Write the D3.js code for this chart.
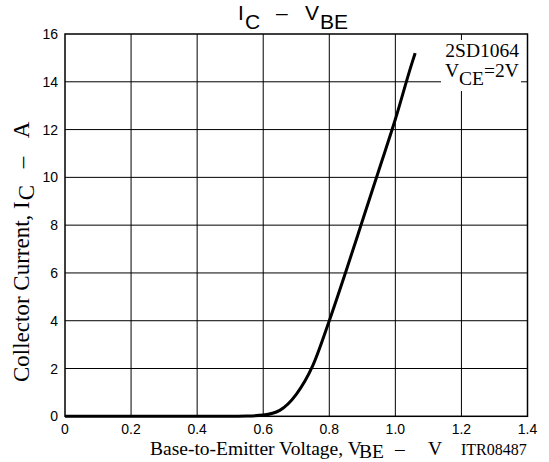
<!DOCTYPE html>
<html>
<head>
<meta charset="utf-8">
<script src="https://cdn.jsdelivr.net/npm/d3@7/dist/d3.min.js"></script>
<style>
  html, body { margin: 0; padding: 0; background: #fff; }
  svg { display: block; }
</style>
</head>
<body>
<svg id="chart" width="549" height="462"></svg>
<script>
// ---- data ----
const vbe = [0, 0.50, 0.55, 0.60, 0.65, 0.70, 0.75, 0.80, 0.85, 0.90, 0.95, 1.00, 1.05, 1.06];
const ic  = [0, 0, 0.01, 0.05, 0.25, 0.92, 2.12, 4.0, 6.05, 8.17, 10.3, 12.43, 14.77, 15.2];
const xTicks = [0, 0.2, 0.4, 0.6, 0.8, 1.0, 1.2, 1.4];
const xTickLabels = ["0", "0.2", "0.4", "0.6", "0.8", "1.0", "1.2", "1.4"];
const yTicks = [0, 2, 4, 6, 8, 10, 12, 14, 16];
const yTickLabels = ["0", "2", "4", "6", "8", "10", "12", "14", "16"];

const svg = d3.select("#chart");
const L = 65, R = 527.5, T = 34, B = 416.3;
const x = d3.scaleLinear().domain([0, 1.4]).range([L, R]);
const y = d3.scaleLinear().domain([0, 16]).range([B, T]);
const sans = "'Liberation Sans', Arial, sans-serif";
const serif = "'Liberation Serif', 'Times New Roman', serif";

// grid
const g = svg.append("g");
g.selectAll(".vg").data(xTicks.slice(1, -1)).join("line")
  .attr("x1", d => x(d)).attr("x2", d => x(d))
  .attr("y1", T).attr("y2", B)
  .attr("stroke", "#000").attr("stroke-width", 1);
g.selectAll(".hg").data(yTicks.slice(1, -1)).join("line")
  .attr("x1", L).attr("x2", R)
  .attr("y1", d => y(d)).attr("y2", d => y(d))
  .attr("stroke", "#000").attr("stroke-width", 1);

// label box (knocks out grid)
svg.append("rect").attr("x", 441).attr("y", 40).attr("width", 80).attr("height", 51).attr("fill", "#fff");

// frame
svg.append("rect").attr("x", L).attr("y", T).attr("width", R - L).attr("height", B - T)
  .attr("fill", "none").attr("stroke", "#000").attr("stroke-width", 1.5);

// curve
const pts = vbe.map((v, i) => [v, ic[i]]);
svg.append("path").datum(pts)
  .attr("d", d3.line().x(d => x(d[0])).y(d => y(d[1])).curve(d3.curveMonotoneX))
  .attr("fill", "none").attr("stroke", "#000").attr("stroke-width", 3)
  .attr("stroke-linejoin", "round");

// tick labels
svg.selectAll(".xt").data(xTicks).join("text")
  .attr("x", d => x(d)).attr("y", 433.5)
  .attr("text-anchor", "middle").attr("font-family", sans).attr("font-size", 14)
  .text((d, i) => xTickLabels[i]);
svg.selectAll(".yt").data(yTicks).join("text")
  .attr("x", 58).attr("y", d => y(d) + 5)
  .attr("text-anchor", "end").attr("font-family", sans).attr("font-size", 14)
  .text((d, i) => yTickLabels[i]);

function put(parent, t, px, py, size, fam, anchor) {
  return parent.append("text").attr("x", px).attr("y", py)
    .attr("font-family", fam).attr("font-size", size)
    .attr("text-anchor", anchor || "start").text(t);
}

// title
put(svg, "I", 238, 20, 21, sans);
put(svg, "C", 245, 29, 21, sans);
put(svg, "–", 276, 20, 21, sans);
put(svg, "V", 305, 20, 21, sans);
put(svg, "BE", 320, 29, 21, sans);

// legend text
put(svg, "2SD1064", 519, 57, 19.5, serif, "end");
const lt = svg.append("text").attr("x", 445).attr("y", 77)
  .attr("font-family", serif).attr("font-size", 19.5);
lt.append("tspan").text("V");
lt.append("tspan").attr("dy", 8).text("CE");
lt.append("tspan").attr("dy", -8).text("=2V");

// x title
put(svg, "Base-to-Emitter Voltage, V", 150, 455, 19.5, serif);
put(svg, "BE", 359, 457.5, 19.5, serif);
put(svg, "–", 395, 455, 19.5, serif);
put(svg, "V", 428, 455, 19.5, serif);
put(svg, "ITR08487", 461, 455, 16, serif);

// y title
const yt = svg.append("g").attr("transform", "translate(29,382) rotate(-90)");
const t1 = put(yt, "Collector Current, I", 0, 0, 23, serif);
const w1 = t1.node().getComputedTextLength();
put(yt, "C", w1 + 1, 5, 23, serif);
put(yt, "–", w1 + 33, 0, 23, serif);
put(yt, "A", w1 + 63, 0, 23, serif);
</script>
</body>
</html>
